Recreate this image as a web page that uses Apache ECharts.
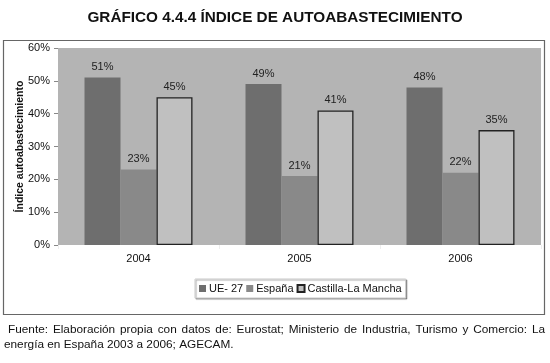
<!DOCTYPE html>
<html><head><meta charset="utf-8">
<script src="https://cdn.jsdelivr.net/npm/echarts@6/dist/echarts.min.js"></script>
<style>html,body{margin:0;padding:0;background:#fff}#c{width:550px;height:363px}</style>
</head><body><div id="c"></div>
<script>
const categories = ['2004', '2005', '2006'];
const ue27 = [51, 49, 48];
const espana = [23, 21, 22];
const clm = [45, 41, 35];
const yTicks = [0, 10, 20, 30, 40, 50, 60];
const seriesNames = ['UE- 27', 'España', 'Castilla-La Mancha'];
const footLine1 = 'Fuente: Elaboración propia con datos de: Eurostat; Ministerio de Industria, Turismo y Comercio: La';
const footLine2 = 'energía en España 2003 a 2006; AGECAM.';

const FONT = '"Liberation Sans", Arial, sans-serif';
const FOOT_FONT = '11.8px ' + FONT;

// justify first footer line across its width
const ctx = document.createElement('canvas').getContext('2d');
ctx.font = FOOT_FONT;
const words = footLine1.split(' ');
const x0 = 8, x1 = 545;
const totalW = words.reduce((s, w) => s + ctx.measureText(w).width, 0);
const gap = (x1 - x0 - totalW) / (words.length - 1);
const footGraphics = [];
let cx = x0;
words.forEach(w => {
  footGraphics.push({type: 'text', x: cx, y: 324, silent: true, style: {text: w, font: FOOT_FONT, fill: '#111'}});
  cx += ctx.measureText(w).width + gap;
});
footGraphics.push({type: 'text', x: 4, y: 339, silent: true, style: {text: footLine2, font: FOOT_FONT, fill: '#111'}});

const chart = echarts.init(document.getElementById('c'));
const lbl = {show: true, position: 'top', distance: 5, color: '#222', fontSize: 11, fontFamily: FONT, formatter: p => p.value + '%'};
chart.setOption({
  animation: false,
  backgroundColor: '#fff',
  title: {text: 'GRÁFICO 4.4.4 ÍNDICE DE AUTOABASTECIMIENTO', left: 'center', top: 5,
    textStyle: {fontSize: 15.3, fontWeight: 'bold', color: '#111', fontFamily: FONT}},
  graphic: [
    {type: 'rect', shape: {x: 3.5, y: 40.5, width: 541, height: 274}, z: -10, silent: true,
      style: {fill: '#fff', stroke: '#666', lineWidth: 1.2}}
  ].concat(footGraphics),
  legend: {top: 279, left: 195, itemWidth: 7, itemHeight: 7, itemGap: 3,
    padding: [4, 4], backgroundColor: '#fff', borderColor: '#ccc', borderWidth: 1,
    shadowColor: 'rgba(0,0,0,0.35)', shadowOffsetX: 1, shadowOffsetY: 1, shadowBlur: 1,
    textStyle: {fontSize: 11, color: '#111', fontFamily: FONT, padding: [0, 0, 0, -2]},
    data: seriesNames.map(n => ({name: n, icon: 'rect'}))},
  grid: {left: 58, right: 9, top: 48, bottom: 118, backgroundColor: '#b4b4b4', show: true, borderWidth: 0},
  xAxis: {type: 'category', data: categories,
    axisLine: {show: false}, axisTick: {show: true, length: 4, lineStyle: {color: '#eee'}},
    axisLabel: {fontSize: 11, color: '#111', fontFamily: FONT, margin: 8}},
  yAxis: {type: 'value', min: 0, max: 60, interval: 10,
    name: 'Índice autoabastecimiento', nameLocation: 'middle', nameGap: 32, nameMoveOverlap: false,
    nameTextStyle: {fontSize: 10.5, fontWeight: 'bold', color: '#111', fontFamily: FONT},
    splitLine: {show: false}, axisLine: {show: false},
    axisTick: {show: true, length: 4, lineStyle: {color: '#888'}},
    axisLabel: {fontSize: 11, color: '#111', fontFamily: FONT, margin: 8,
      formatter: v => yTicks.includes(v) ? v + '%' : ''}},
  series: [
    {name: seriesNames[0], type: 'bar', data: ue27, barWidth: 36, barGap: '0%', label: lbl,
      itemStyle: {color: '#6e6e6e'}},
    {name: seriesNames[1], type: 'bar', data: espana, barWidth: 36, label: lbl,
      itemStyle: {color: '#898989'}},
    {name: seriesNames[2], type: 'bar', data: clm, barWidth: 36, label: lbl,
      itemStyle: {color: '#c0c0c0', borderColor: '#222', borderWidth: 1.3}}
  ]
});
</script></body></html>
